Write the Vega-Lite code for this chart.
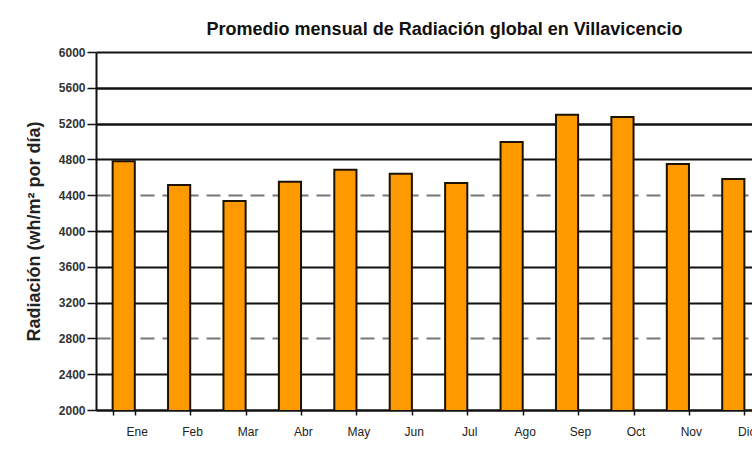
{
  "$schema": "https://vega.github.io/schema/vega-lite/v6.json",
  "width": 665,
  "height": 358,
  "autosize": {"type": "none"},
  "padding": {"left": 96, "top": 52, "right": -9, "bottom": 45},
  "background": "white",
  "title": {
    "text": "Promedio mensual de Radiación global en Villavicencio",
    "font": "Liberation Sans",
    "fontSize": 18,
    "fontWeight": "bold",
    "color": "#111",
    "anchor": "middle",
    "dx": 16,
    "offset": 7
  },
  "config": {"view": {"stroke": null}},
  "data": {
    "values": [
      {"mes": "Ene", "rad": 4780},
      {"mes": "Feb", "rad": 4515},
      {"mes": "Mar", "rad": 4335},
      {"mes": "Abr", "rad": 4550},
      {"mes": "May", "rad": 4685},
      {"mes": "Jun", "rad": 4640},
      {"mes": "Jul", "rad": 4535},
      {"mes": "Ago", "rad": 4995},
      {"mes": "Sep", "rad": 5300},
      {"mes": "Oct", "rad": 5275},
      {"mes": "Nov", "rad": 4750},
      {"mes": "Dic", "rad": 4580}
    ]
  },
  "mark": {"type": "bar", "fill": "#FF9900", "stroke": "#1c1200", "strokeWidth": 2, "clip": true},
  "encoding": {
    "x": {
      "field": "mes",
      "type": "nominal",
      "sort": null,
      "scale": {"paddingInner": 0.6, "paddingOuter": 0.3},
      "axis": {
        "title": null,
        "labelAngle": 0,
        "labelOffset": 13,
        "labelFont": "Liberation Sans",
        "labelFontSize": 12,
        "labelColor": "#222",
        "labelPadding": 11,
        "tickBand": "extent",
        "tickColor": "#111",
        "tickSize": 5,
        "tickWidth": 1.5,
        "domainColor": "#111",
        "domainWidth": 2,
        "grid": false
      }
    },
    "y": {
      "field": "rad",
      "type": "quantitative",
      "scale": {"domain": [2000, 6000], "nice": false, "zero": false},
      "axis": {
        "values": [2000, 2400, 2800, 3200, 3600, 4000, 4400, 4800, 5200, 5600, 6000],
        "format": "d",
        "title": "Radiación (wh/m² por día)",
        "titleFont": "Liberation Sans",
        "titleFontSize": 18,
        "titleFontWeight": "bold",
        "titleColor": "#222",
        "titlePadding": 15,
        "labelFont": "Liberation Sans",
        "labelFontSize": 12,
        "labelFontWeight": "bold",
        "labelColor": "#333",
        "labelPadding": 2,
        "tickColor": "#111",
        "tickSize": 9,
        "tickWidth": 1.5,
        "domainColor": "#111",
        "domainWidth": 2,
        "grid": true,
        "gridColor": {"condition": {"test": "datum.value == 4400 || datum.value == 2800", "value": "#777"}, "value": "#111"},
        "gridDash": {"condition": {"test": "datum.value == 4400 || datum.value == 2800", "value": [14, 8]}, "value": []},
        "gridWidth": {"condition": {"test": "datum.value == 5600 || datum.value == 5200", "value": 2.5}, "value": 1.8},
        "gridOpacity": 1
      }
    }
  }
}
